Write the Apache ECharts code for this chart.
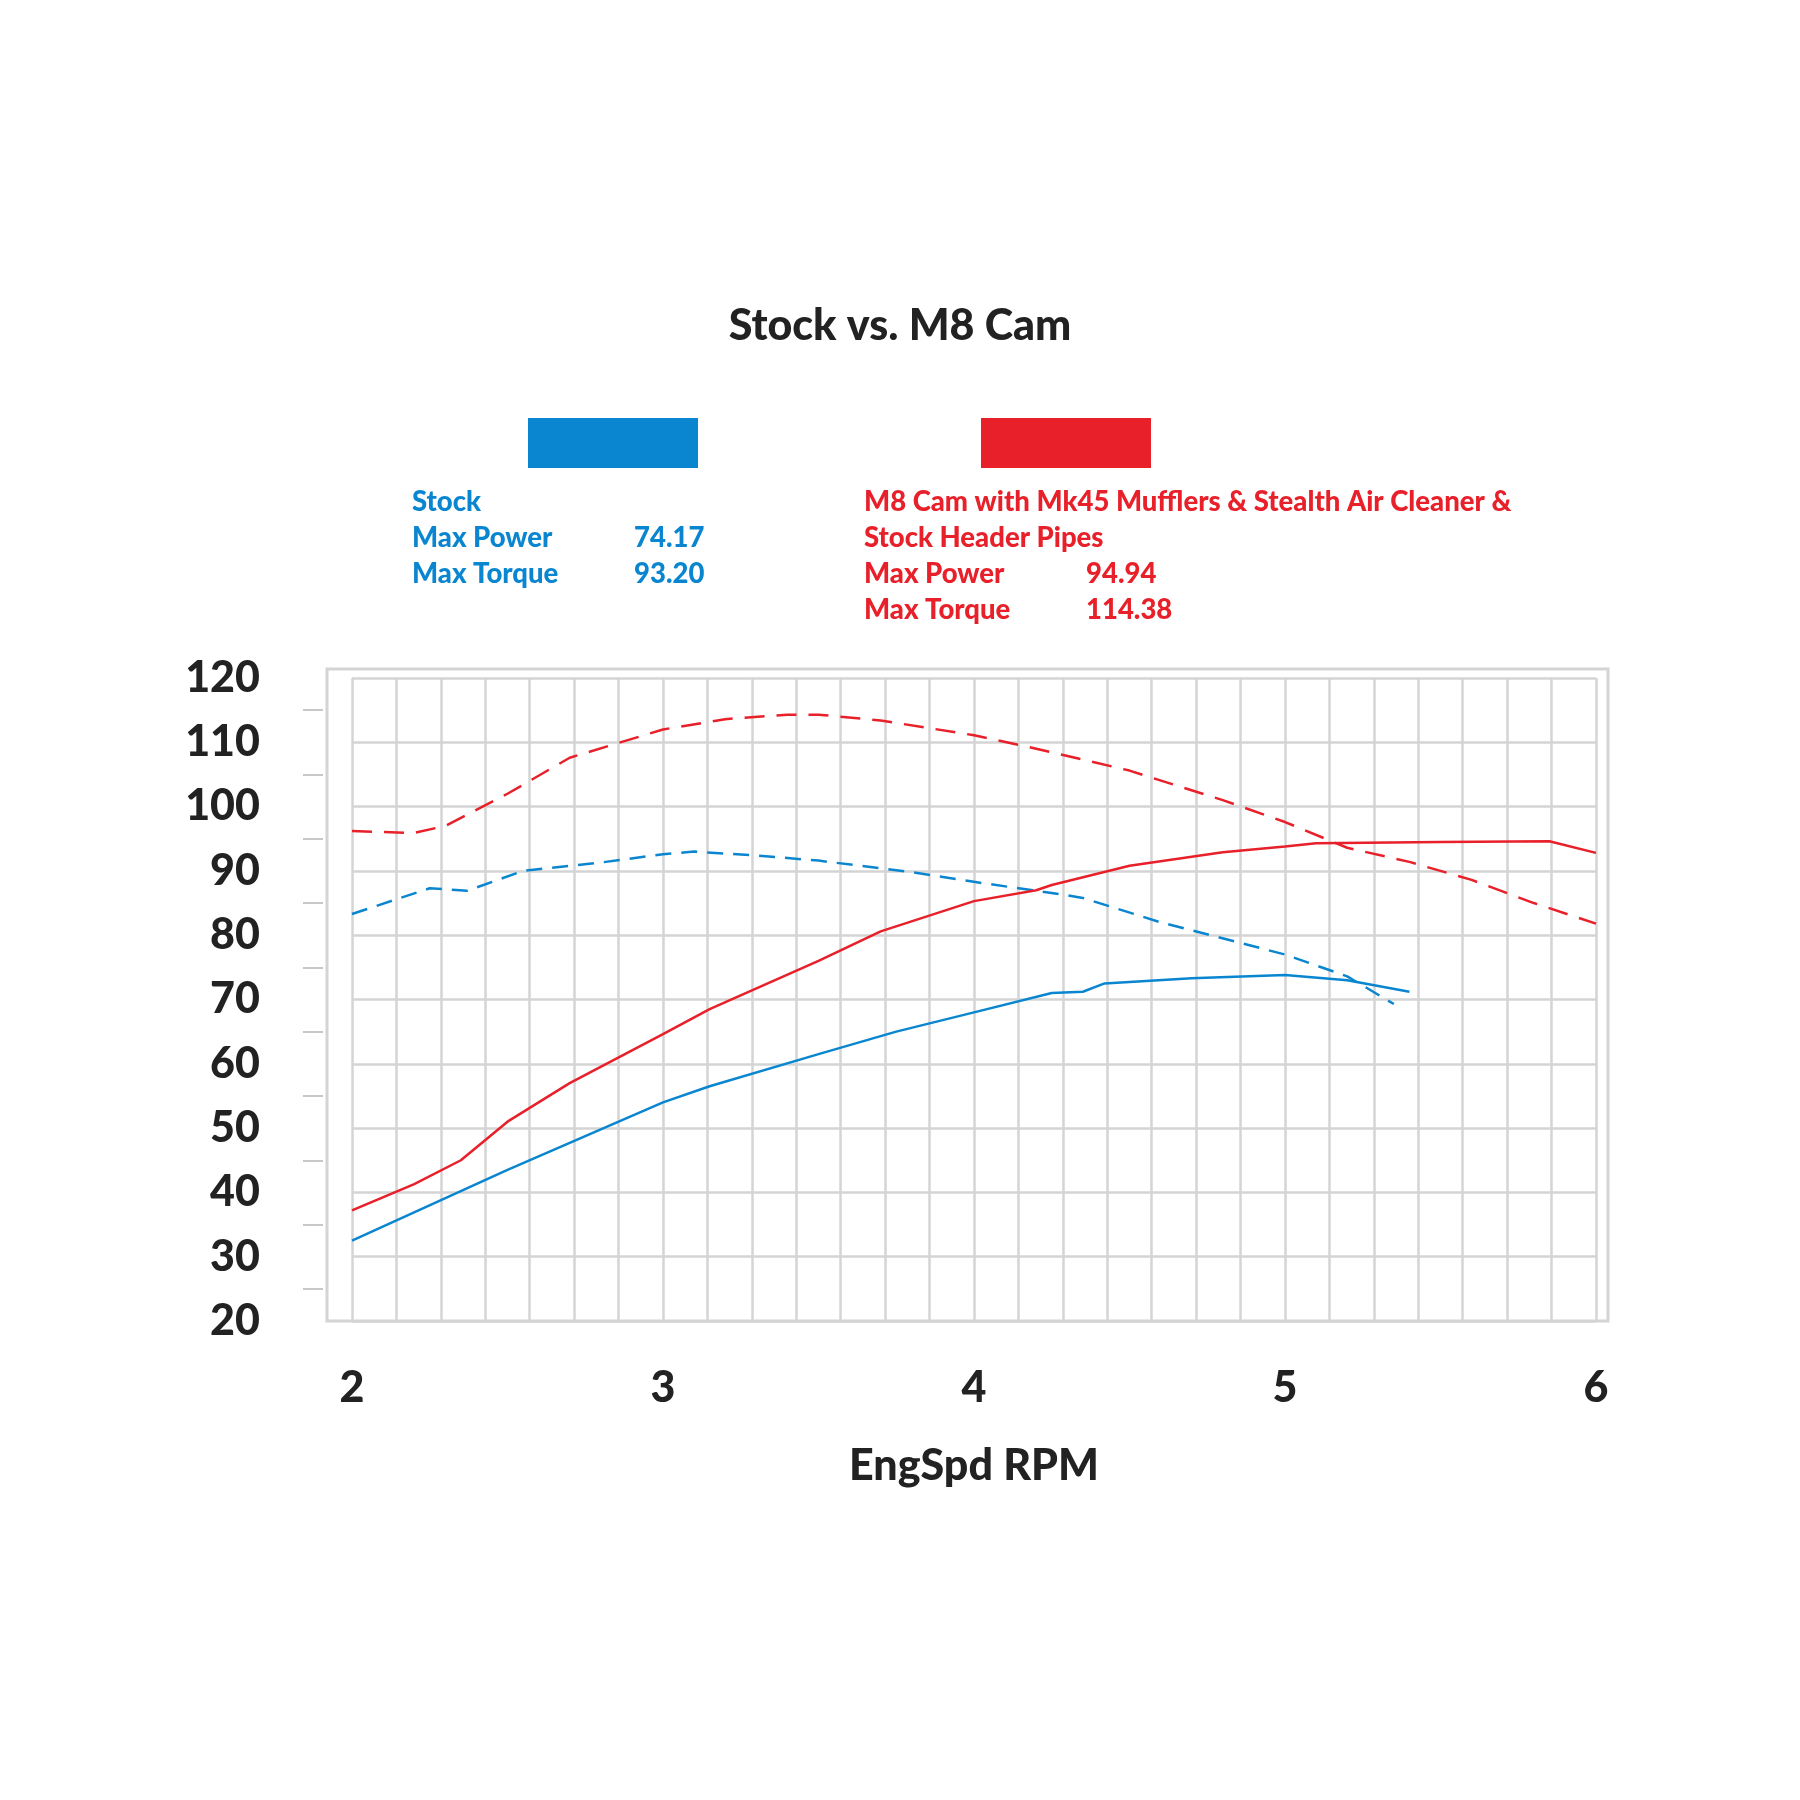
<!DOCTYPE html>
<html>
<head>
<meta charset="utf-8">
<script src="https://cdn.jsdelivr.net/npm/echarts@6/dist/echarts.min.js"></script>
<style>html,body{margin:0;padding:0;background:#fff}#main{width:1800px;height:1800px}</style>
</head>
<body>
<div id="main"></div>
<script>
// 读图估计的数据 (RPM x1000)
var stockPowerX = [2.0, 2.5, 3.0, 3.15, 3.5, 3.75, 4.0, 4.25, 4.35, 4.42, 4.7, 5.0, 5.2, 5.4];
var stockPowerY = [32.5, 43.5, 54, 56.5, 61.5, 65, 68, 71, 71.2, 72.5, 73.3, 73.8, 73, 71.2];
var stockTorqueX = [2.0, 2.25, 2.37, 2.55, 2.8, 3.0, 3.1, 3.3, 3.5, 3.8, 4.0, 4.3, 4.35, 4.6, 5.0, 5.2, 5.35];
var stockTorqueY = [83.3, 87.3, 86.9, 90, 91.3, 92.6, 93, 92.4, 91.6, 89.8, 88.3, 86.2, 85.8, 82, 77, 73.6, 69.3];
var m8PowerX = [2.0, 2.2, 2.35, 2.5, 2.7, 3.0, 3.15, 3.5, 3.7, 4.0, 4.2, 4.25, 4.5, 4.8, 5.0, 5.1, 5.5, 5.85, 6.0];
var m8PowerY = [37.2, 41.3, 45, 51, 57, 64.6, 68.5, 76, 80.6, 85.3, 87, 87.8, 90.8, 92.9, 93.8, 94.3, 94.5, 94.6, 92.8];
var m8TorqueX = [2.0, 2.2, 2.3, 2.5, 2.7, 3.0, 3.2, 3.4, 3.5, 3.7, 4.0, 4.2, 4.5, 4.8, 5.0, 5.2, 5.4, 5.6, 5.8, 6.0];
var m8TorqueY = [96.2, 95.9, 97, 102, 107.6, 112, 113.6, 114.3, 114.3, 113.4, 111.1, 109, 105.6, 101, 97.6, 93.6, 91.4, 88.6, 85, 81.8];
var xTicks = [2, 3, 4, 5, 6];

var blue = '#0a86d0';
var red = '#e8202a';
var font = 'Lato, "Open Sans", sans-serif';

function pairs(xs, ys) {
	var out = [];
	for (var i = 0; i < xs.length; i++) out.push([xs[i] * 7, ys[i]]); // 网格每 1/7
	return out;
}

function txt(x, y, s, color, size) {
	return { type: 'text', left: x, top: y, style: { text: s, fill: color, font: '900 ' + (size || 27.5) + 'px ' + font } };
}

var option = {
	backgroundColor: '#fff',
	animation: false,
	grid: { left: 352, right: 204, top: 678, bottom: 479 },
	xAxis: {
		type: 'value', min: 14, max: 42, interval: 1,
		name: 'EngSpd RPM', nameLocation: 'middle', nameGap: 124,
		nameTextStyle: { fontFamily: font, fontWeight: 900, fontSize: 43, color: '#222' },
		axisLine: { show: false }, axisTick: { show: false },
		axisLabel: {
			margin: 46, fontFamily: font, fontWeight: 900, fontSize: 43, color: '#222',
			formatter: function (v) { return xTicks.indexOf(v / 7) >= 0 ? String(v / 7) : ''; }
		},
		splitLine: { lineStyle: { color: '#d4d4d4', width: 2.5 } }
	},
	yAxis: [{
		type: 'value', min: 20, max: 120, interval: 10,
		axisLine: { show: false }, axisTick: { show: false },
		axisLabel: { margin: 92, fontFamily: font, fontWeight: 900, fontSize: 43, color: '#222' },
		splitLine: { lineStyle: { color: '#d4d4d4', width: 2.5 } }
	}, {
		type: 'value', min: 20, max: 120, interval: 10, position: 'left', offset: 29,
		axisLine: { show: false }, axisTick: { show: false }, axisLabel: { show: false },
		splitLine: { show: false },
		minorTick: { show: true, splitNumber: 2, length: 20, lineStyle: { color: '#c8c8c8', width: 2 } }
	}],
	series: [
		{ type: 'line', data: pairs(stockPowerX, stockPowerY), symbol: 'none', lineStyle: { color: blue, width: 2.5 } },
		{ type: 'line', data: pairs(stockTorqueX, stockTorqueY), symbol: 'none', lineStyle: { color: blue, width: 2.5, type: [16, 10] } },
		{ type: 'line', data: pairs(m8PowerX, m8PowerY), symbol: 'none', lineStyle: { color: red, width: 2.5 } },
		{ type: 'line', data: pairs(m8TorqueX, m8TorqueY), symbol: 'none', lineStyle: { color: red, width: 2.5, type: [20, 12] } }
	],
	graphic: [
		{ type: 'text', left: 'center', top: 305, x: 200, style: { text: 'Stock vs. M8 Cam', fill: '#222', font: '900 43px ' + font } },
		{ type: 'rect', shape: { x: 327, y: 669, width: 1281, height: 652 }, style: { fill: null, stroke: '#d4d4d4', lineWidth: 3 } },
		{ type: 'rect', shape: { x: 528, y: 418, width: 170, height: 50 }, style: { fill: blue } },
		{ type: 'rect', shape: { x: 981, y: 418, width: 170, height: 50 }, style: { fill: red } },
		txt(412, 488, 'Stock', blue), txt(412, 524, 'Max Power', blue), txt(634, 524, '74.17', blue),
		txt(412, 560, 'Max Torque', blue), txt(634, 560, '93.20', blue),
		txt(864, 488, 'M8 Cam with Mk45 Mufflers & Stealth Air Cleaner &', red),
		txt(864, 524, 'Stock Header Pipes', red),
		txt(864, 560, 'Max Power', red), txt(1086, 560, '94.94', red),
		txt(864, 596, 'Max Torque', red), txt(1086, 596, '114.38', red)
	]
};

var chart = echarts.init(document.getElementById('main'));
chart.setOption(option);
</script>
</body>
</html>
